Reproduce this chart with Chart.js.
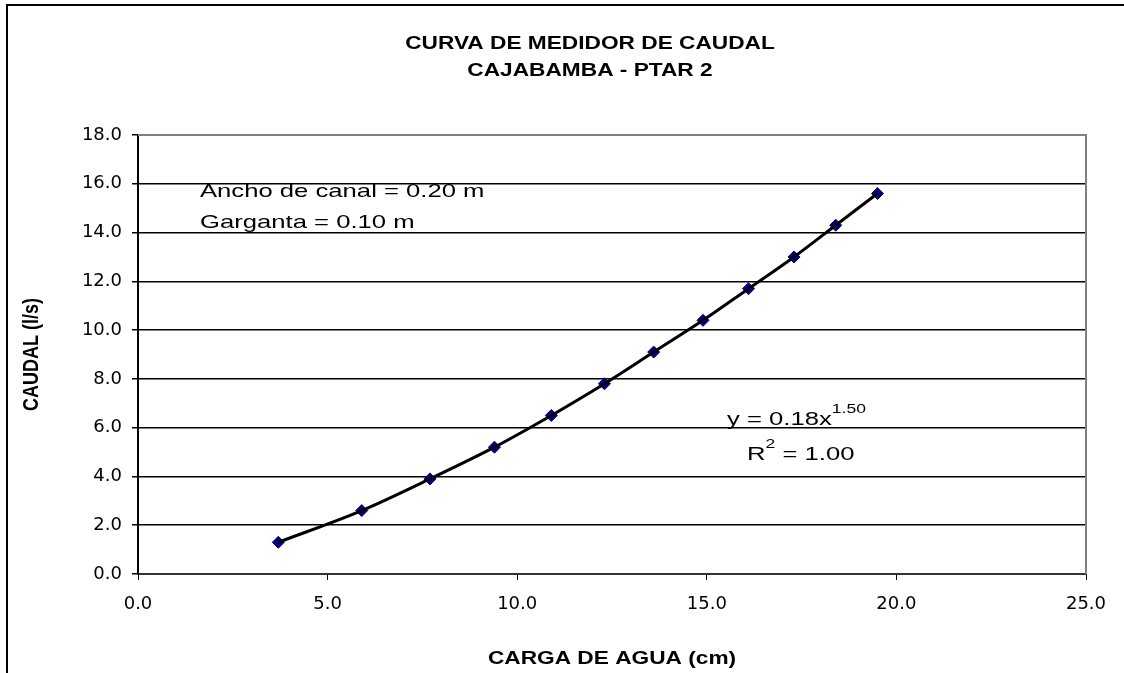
<!DOCTYPE html>
<html>
<head>
<meta charset="utf-8">
<script src="https://cdn.jsdelivr.net/npm/chart.js@4.4.1/dist/chart.umd.min.js"></script>
<style>
  html, body { margin: 0; padding: 0; background: #ffffff; }
  #wrap { width: 1124px; height: 673px; }
</style>
</head>
<body>
<div id="wrap"><canvas id="c" width="1124" height="673"></canvas></div>
<script>
// ---- Data ----
const cargaAgua = [3.7, 5.9, 7.7, 9.4, 10.9, 12.3, 13.6, 14.9, 16.1, 17.3, 18.4, 19.5]; // cm
const caudal    = [1.3, 2.6, 3.9, 5.2, 6.5, 7.8, 9.1, 10.4, 11.7, 13.0, 14.3, 15.6];   // l/s
const titleLines = ['CURVA DE MEDIDOR DE CAUDAL', 'CAJABAMBA - PTAR 2'];
const xAxisTitle = 'CARGA DE AGUA (cm)';
const yAxisTitle = 'CAUDAL (l/s)';
const noteLines = ['Ancho de canal = 0.20 m', 'Garganta = 0.10 m'];
const eqText = 'y = 0.18x';
const eqExp = '1.50';
const r2Text = ' = 1.00';

const points = cargaAgua.map((x, i) => ({ x: x, y: caudal[i] }));

function sText(ctx, str, x, y, font, sx, align) {
  ctx.save();
  ctx.font = font;
  ctx.fillStyle = '#000';
  ctx.textAlign = align || 'left';
  ctx.textBaseline = 'alphabetic';
  ctx.translate(x, y);
  ctx.scale(sx, 1);
  ctx.fillText(str, 0, 0);
  ctx.restore();
}
function sWidth(ctx, str, font, sx) {
  ctx.save(); ctx.font = font; const w = ctx.measureText(str).width * sx; ctx.restore(); return w;
}

const decorPlugin = {
  id: 'decor',
  beforeDraw(chart) {
    const ctx = chart.ctx;
    ctx.save();
    ctx.fillStyle = '#fff';
    ctx.fillRect(0, 0, chart.width, chart.height);
    ctx.strokeStyle = '#000';
    ctx.lineWidth = 2;
    ctx.strokeRect(7, 5, chart.width + 20, chart.height + 20);
    ctx.restore();
  },
  afterDraw(chart) {
    const ctx = chart.ctx;
    const a = chart.chartArea;
    // plot area top/right border (grey)
    ctx.save();
    ctx.strokeStyle = '#808080';
    ctx.lineWidth = 2;
    ctx.beginPath();
    ctx.moveTo(a.left, a.top);
    ctx.lineTo(a.right, a.top);
    ctx.lineTo(a.right, a.bottom);
    ctx.stroke();
    ctx.restore();

    const bold = 'bold 18px "Liberation Sans", Arial, sans-serif';
    const reg = '19px "Liberation Sans", Arial, sans-serif';
    const sup = '13px "Liberation Sans", Arial, sans-serif';
    const sxB = 1.26, sxR = 1.35;

    // Title
    sText(ctx, titleLines[0], 590, 49, bold, sxB, 'center');
    sText(ctx, titleLines[1], 590, 76, bold, sxB, 'center');

    // X axis title
    sText(ctx, xAxisTitle, (a.left + a.right) / 2, 664, bold, sxB, 'center');

    // Y axis title (rotated)
    ctx.save();
    ctx.font = bold;
    ctx.fillStyle = '#000';
    ctx.translate(32, (a.top + a.bottom) / 2);
    ctx.rotate(-Math.PI / 2);
    ctx.scale(1, sxB);
    ctx.textAlign = 'center';
    ctx.textBaseline = 'middle';
    ctx.fillText(yAxisTitle, 0, 0);
    ctx.restore();

    // Notes
    sText(ctx, noteLines[0], 200, 197, reg, sxR, 'left');
    sText(ctx, noteLines[1], 200, 228, reg, sxR, 'left');

    // Equation
    let x0 = 727;
    sText(ctx, eqText, x0, 425, reg, sxR, 'left');
    x0 += sWidth(ctx, eqText, reg, sxR);
    sText(ctx, eqExp, x0, 413, sup, sxR, 'left');
    let x1 = 747;
    sText(ctx, 'R', x1, 460, reg, sxR, 'left');
    x1 += sWidth(ctx, 'R', reg, sxR);
    sText(ctx, '2', x1, 448, sup, sxR, 'left');
    x1 += sWidth(ctx, '2', sup, sxR);
    sText(ctx, r2Text, x1, 460, reg, sxR, 'left');
  }
};

new Chart(document.getElementById('c'), {
  type: 'scatter',
  data: {
    datasets: [
      {
        label: 'Tendencia',
        data: points,
        showLine: true,
        borderColor: '#000',
        borderWidth: 3,
        pointRadius: 0,
        cubicInterpolationMode: 'monotone',
        order: 0
      },
      {
        label: 'Caudal',
        data: points,
        showLine: false,
        pointStyle: 'rectRot',
        pointRadius: 6,
        backgroundColor: '#000080',
        borderColor: '#000080',
        borderWidth: 1,
        order: 1
      }
    ]
  },
  options: {
    responsive: false,
    animation: false,
    devicePixelRatio: 1,
    layout: { padding: { top: 135, right: 38, left: 0, bottom: 0 } },
    plugins: {
      legend: { display: false },
      tooltip: { enabled: false },
      title: { display: false }
    },
    scales: {
      x: {
        type: 'linear',
        min: 0, max: 25,
        afterFit(scale) { scale.height = 99; },
        ticks: {
          stepSize: 5,
          padding: 14,
          color: '#000',
          font: { family: '"DejaVu Sans", sans-serif', size: 18 },
          callback: v => Number(v).toFixed(1)
        },
        grid: { drawOnChartArea: false, drawTicks: true, tickLength: 6, tickColor: '#000', color: '#000' },
        border: { display: true, color: '#333', width: 2 }
      },
      y: {
        type: 'linear',
        min: 0, max: 18,
        afterFit(scale) { scale.width = 138; },
        ticks: {
          stepSize: 2,
          padding: 10,
          color: '#000',
          font: { family: '"DejaVu Sans", sans-serif', size: 18 },
          callback: v => Number(v).toFixed(1)
        },
        grid: {
          drawOnChartArea: true,
          drawTicks: true,
          tickLength: 6,
          tickColor: '#000',
          lineWidth: 1.5,
          color: c => (c.tick && c.tick.value === 18) ? '#808080' : '#000'
        },
        border: { display: true, color: '#000', width: 2 }
      }
    }
  },
  plugins: [decorPlugin]
});
</script>
</body>
</html>
